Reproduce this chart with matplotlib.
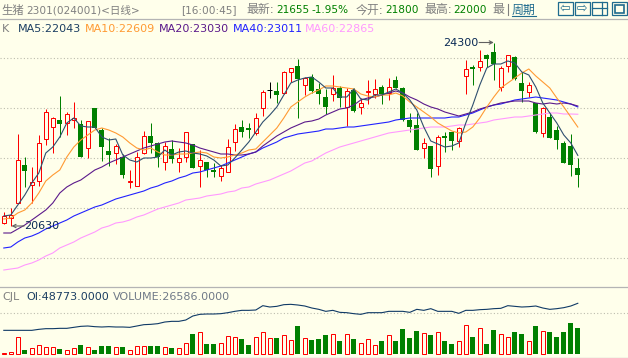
import matplotlib
matplotlib.use("Agg")
import matplotlib.pyplot as plt
from matplotlib.patches import Rectangle

plt.rcParams['font.family'] = ['DejaVu Sans', 'Noto Sans CJK SC']

W, H = 628, 358
BG = '#FFFFEB'
RED = '#FF0000'
GREEN = '#008000'
ONE_PX = 0.72

high = [20916,20984,22470,22004,21816,22450,22970,22816,23230,22916,23104,22750,22724,22990,22590,22384,22270,22064,21750,22116,
        22530,22684,22316,22316,22350,22184,22516,22264,22150,21904,21884,21850,22364,22670,22750,22684,22896,23350,23516,23516,
        23730,23796,23970,23604,23670,23490,23370,23650,23430,23396,23396,23184,23550,23570,23450,23584,23630,23404,22896,22884,
        22390,22230,22450,22516,22504,22616,23950,23844,24150,24070,24300,23836,24044,24030,23710,23504,23096,23016,22884,22630,
        22336,22464,22000]
low = [20670,20630,21096,21416,21096,21430,22250,22096,22404,22450,22584,22004,21996,22590,21936,21836,21864,21596,21384,21436,
       22064,22084,21816,21750,21884,21710,21904,21796,21416,21604,21616,21536,21704,22130,22416,22396,22450,22836,23196,23084,
       23270,23504,22796,23250,23284,23076,22870,23136,23016,22636,22916,22870,23070,23196,23070,23150,23384,22736,22516,22156,
       21996,21616,21660,22116,22150,22216,23270,23450,23736,23816,23550,23336,23716,23550,23116,23216,22484,22416,22396,22170,
       21884,21636,21416]
open_ = [20684,20796,21096,21850,21450,21536,22364,22604,22744,22696,22744,22670,22196,22990,22550,22130,22096,22016,21518,21436,
         22084,22430,22284,21904,22170,21904,22004,22264,21830,21904,21750,21636,21704,22304,22604,22590,22496,22984,23350,23330,
         23284,23704,23830,23444,23604,23364,23204,23264,23384,23004,23350,23004,23304,23270,23404,23284,23550,23384,22750,22644,
         22184,22230,21824,22436,22504,22336,23636,23810,23816,24044,24110,23416,23824,24010,23490,23316,23096,22496,22810,22544,
         22290,22230,21800]
close = [20836,20850,21950,21730,21516,22284,22904,22784,22670,22864,22790,22016,22724,22590,22216,22050,22230,21650,21530,22016,
         22430,22284,22016,22236,21970,21984,22516,21796,21944,21750,21716,21784,22216,22564,22516,22556,22784,23304,23350,23250,
         23704,23796,23576,23584,23330,23276,23016,23384,23196,23336,22930,23084,23324,23364,23270,23404,23384,22750,22616,22156,
         22296,21770,22404,22396,22330,22584,23764,23776,23936,23976,23870,23790,24044,23570,23330,23444,22504,22984,22396,22356,
         21896,21850,21655]

ma5 = [20830,20850,21050,21250,21490,21690,22090,22210,22410,22690,22790,22630,22610,22610,22410,22350,22370,22050,21950,21910,
       21990,21990,22010,22150,22050,22110,22130,22090,22070,22030,21950,21830,21850,21990,22150,22310,22510,22710,22850,23010,
       23250,23490,23550,23590,23610,23510,23390,23390,23210,23210,23370,23170,23150,23250,23250,23310,23370,23290,23150,22950,
       22610,22330,22270,22210,22230,22290,22690,23050,23450,23790,23870,23870,23930,23890,23710,23650,23410,23090,22890,22690,
       22450,22290,22043]
ma10 = [20770,20790,20890,20950,21090,21290,21530,21650,21750,22010,22210,22350,22450,22550,22590,22550,22490,22410,22290,22190,
        22150,22190,22110,22050,22050,22070,22070,22090,22110,22090,22010,21990,22010,22050,22090,22150,22170,22310,22450,22590,
        22790,23010,23110,23210,23290,23350,23430,23430,23410,23390,23370,23270,23230,23210,23250,23250,23290,23230,23110,23010,
        22910,22810,22690,22610,22530,22490,22510,22610,22790,23010,23210,23390,23490,23590,23690,23770,23630,23510,23390,23190,
        23010,22810,22609]
ma20 = [20490,20490,20570,20650,20750,20850,20950,21090,21290,21410,21490,21550,21650,21750,21810,21890,21950,22010,22070,22130,
        22190,22230,22270,22310,22330,22310,22290,22250,22190,22150,22110,22070,22070,22050,22050,22070,22110,22230,22330,22430,
        22510,22590,22650,22710,22730,22770,22850,22910,22970,22990,23050,23150,23190,23210,23250,23290,23330,23290,23210,23150,
        23070,23010,22970,22910,22870,22830,22870,22910,22970,23010,23050,23090,23110,23130,23130,23130,23090,23070,23090,23070,
        23090,23070,23030]
ma40 = [20190,20210,20310,20390,20430,20490,20570,20630,20690,20750,20830,20890,20950,21010,21050,21110,21170,21210,21250,21290,
        21330,21390,21430,21490,21530,21590,21630,21690,21710,21750,21790,21830,21890,21950,22010,22070,22110,22190,22250,22310,
        22390,22430,22470,22490,22510,22530,22570,22570,22590,22610,22610,22630,22650,22670,22690,22710,22750,22770,22790,22790,
        22790,22790,22790,22790,22810,22810,22850,22890,22950,23010,23050,23070,23110,23150,23170,23190,23210,23190,23170,23150,
        23110,23070,23011]
ma60 = [19750,19770,19790,19850,19890,19950,20030,20090,20190,20250,20310,20390,20450,20510,20590,20630,20690,20710,20750,20810,
        20850,20910,20970,21010,21050,21090,21150,21170,21190,21230,21250,21270,21310,21330,21390,21410,21470,21510,21550,21610,
        21670,21730,21810,21890,21930,22010,22090,22150,22210,22250,22290,22330,22370,22410,22450,22490,22510,22530,22550,22570,
        22590,22610,22610,22610,22630,22650,22650,22670,22690,22710,22750,22770,22790,22810,22810,22830,22850,22870,22890,22890,
        22870,22870,22865]

volume = [4430,5030,18200,6825,8320,11015,9220,9220,7720,6525,8320,11315,9220,6825,10415,10415,9220,9520,6525,10115,
          10115,10415,10415,9220,8620,8320,12810,21190,22690,12210,12510,12810,19095,18200,16700,11315,18200,22690,17300,17600,
          19995,15500,28375,17300,15800,16700,20290,21190,14905,21190,16700,12810,16400,11015,14905,19995,14905,25680,17600,23885,
          21790,20290,22690,14905,12210,14605,28975,18500,26280,12210,24780,20890,18200,22985,21190,14605,28375,23585,22985,18500,
          22985,31070,26586]
oi = [24480,24480,24480,24480,24480,25380,25980,25980,26280,26280,27180,28070,28370,27780,27480,27780,27480,27480,27180,28370,
      29570,29870,30470,31960,32560,32560,33760,37350,38850,39150,39150,39450,40340,41540,42440,42440,42740,46630,45430,46030,
      47530,47830,47230,46330,44540,43340,41540,42440,40640,40340,39450,38850,40340,40340,40340,41540,41540,41540,40640,43340,
      42440,43940,41540,41540,41540,39750,42440,42440,43040,43340,43940,44240,46630,46030,45430,45730,46330,44540,43340,43940,
      44840,46330,48773]

price_grid = [24000, 23000, 22000, 21000, 20000]
vol_grid = [40000]
VOL_FLOOR = 3530

ma_series = [(ma60, '#FF99FF'), (ma40, '#2222FF'), (ma20, '#5B1A8B'), (ma10, '#FF9A33'), (ma5, '#2F4F6F')]
ma_labels = [(2, 'K', '#808080'), (18, 'MA5:22043', '#1C3F63'), (85, 'MA10:22609', '#FF9A33'),
             (159, 'MA20:23030', '#5B1A8B'), (233, 'MA40:23011', '#2222FF'), (305, 'MA60:22865', '#FF99FF')]

fig = plt.figure(figsize=(W / 100, H / 100), dpi=100, facecolor=BG)


def put(x, y, s, color='#808080', size=8.0, **kw):
    return fig.text(x / W, 1 - y / H, s, color=color, fontsize=size, va='center', ha='left', **kw)


def panel(top, bottom):
    a = fig.add_axes([0, 1 - bottom / H, 1, (bottom - top) / H], facecolor=BG)
    for s in a.spines.values():
        s.set_visible(False)
    a.tick_params(length=0, labelleft=False, labelbottom=False)
    a.set_xticks([])
    a.set_xlim(-3.8 / 7, (W - 3.8) / 7)
    return a


ax = panel(19, 286)
ax.set_ylim(19430, 24770)
ax.set_yticks(price_grid)
ax.grid(axis='y', color='#BDBDAE', linestyle=(0, (1, 2)), linewidth=0.8)
ax.set_axisbelow(True)

for series, color in ma_series:
    ax.plot(range(len(series)), series, color=color, linewidth=0.8, zorder=4)

for i in range(len(close)):
    o, c = open_[i], close[i]
    top, bot = max(o, c), min(o, c)
    if c == o:
        ax.vlines(i, low[i], high[i], color='black', linewidth=ONE_PX, zorder=3)
        ax.hlines(c, i - 2.5 / 7, i + 2.5 / 7, color='black', linewidth=ONE_PX, zorder=3)
    elif c > o:
        ax.vlines(i, top, high[i], color=RED, linewidth=ONE_PX, zorder=3)
        ax.vlines(i, low[i], bot, color=RED, linewidth=ONE_PX, zorder=3)
        ax.bar(i, top - bot, bottom=bot, width=4 / 7, facecolor=BG, edgecolor=RED, linewidth=ONE_PX, zorder=3)
    else:
        ax.vlines(i, low[i], high[i], color=GREEN, linewidth=ONE_PX, zorder=3)
        ax.bar(i, top - bot, bottom=bot, width=5 / 7, color=GREEN, linewidth=0, zorder=3)

hi = high.index(max(high))
lo = low.index(min(low))
ax.annotate('', xy=(hi, max(high)), xytext=(hi - 2.1, max(high)),
            arrowprops=dict(arrowstyle='->', color='#606060', lw=0.8, shrinkA=0, shrinkB=0, mutation_scale=6), zorder=5)
ax.text(hi - 2.2, max(high), str(max(high)), color='#0A2A55', fontsize=8.0, ha='right', va='center', zorder=5)
ax.annotate('', xy=(lo + 0.1, min(low)), xytext=(lo + 1.9, min(low)),
            arrowprops=dict(arrowstyle='->', color='#606060', lw=0.8, shrinkA=0, shrinkB=0, mutation_scale=6), zorder=5)
ax.text(lo + 1.9, min(low), str(min(low)), color='#0A2A55', fontsize=8.0, ha='left', va='center', zorder=5)

vx = panel(287, 357)
vx.set_ylim(540, 63400)
vx.set_yticks(vol_grid)
vx.grid(axis='y', color='#BDBDAE', linestyle=(0, (1, 2)), linewidth=0.8)
vx.set_axisbelow(True)
for i in range(len(volume)):
    h = volume[i] - VOL_FLOOR
    if close[i] >= open_[i]:
        vx.bar(i, h, bottom=VOL_FLOOR, width=4 / 7, facecolor=BG, edgecolor=RED, linewidth=ONE_PX, zorder=3)
    else:
        vx.bar(i, h, bottom=VOL_FLOOR, width=5 / 7, color=GREEN, linewidth=0, zorder=3)
vx.plot(range(len(oi)), oi, color='#103A66', linewidth=0.8, zorder=4)

# panel separators
for y in (18.5, 286.5, 357.5):
    fig.add_artist(plt.Line2D([0, 1], [1 - y / H, 1 - y / H], color='#B4B4B4', linewidth=0.9))

# header row
put(1, 10, '生猪', size=8.2)
put(26, 10, '2301(024001)<日线>', size=7.6)
put(181, 10, '[16:00:45]', size=7.6)
put(246, 10, '最新:', size=8.6)
put(276, 10, '21655', GREEN, 7.6)
put(311, 10, '-1.95%', GREEN, 7.6)
put(356, 10, '今开:', size=8.6)
put(385, 10, '21800', GREEN, 7.6)
put(424, 10, '最高:', size=8.6)
put(453, 10, '22000', GREEN, 7.6)
# the next label is cut off by the period button in the original
put(492, 10, '最', size=8.6)
fig.add_artist(plt.Line2D([507.5 / W, 507.5 / W], [1 - 4 / H, 1 - 15 / H], color='#808080', linewidth=0.8))
put(512, 10, '周期', '#1F6B8E', 8.6)
fig.add_artist(plt.Line2D([512 / W, 536 / W], [1 - 16 / H, 1 - 16 / H], color='#1F6B8E', linewidth=0.8))

for x0, mark in ((557.5, '⇦'), (574.5, '⇨'), (591.5, ''), (611.5, '')):
    fig.add_artist(Rectangle((x0 / W, 1 - 14.5 / H), 15 / W, 13 / H, transform=fig.transFigure,
                             facecolor=BG, edgecolor='#1F6B8E', linewidth=0.9))
    if mark:
        fig.text((x0 + 7.5) / W, 1 - 8 / H, mark, color='#1F6B8E', fontsize=9, ha='center', va='center')
fig.add_artist(plt.Line2D([591.5 / W, 606.5 / W], [1 - 8 / H, 1 - 8 / H], color='#1F6B8E', linewidth=0.9))
fig.add_artist(plt.Line2D([601.5 / W, 601.5 / W], [1 - 1.5 / H, 1 - 14.5 / H], color='#1F6B8E', linewidth=0.9))
fig.add_artist(Rectangle((614.5 / W, 1 - 12.5 / H), 9 / W, 8 / H, transform=fig.transFigure,
                         facecolor=BG, edgecolor='#1F6B8E', linewidth=1.2))

for x, s, c in ma_labels:
    put(x, 28.5, s, c)

put(2, 296.5, 'CJL', '#808080')
put(26, 296.5, 'OI:48773.0000', '#1C3F63')
put(113, 296.5, 'VOLUME:26586.0000', '#707A88')

fig.savefig('out.png', dpi=100, facecolor=BG)
